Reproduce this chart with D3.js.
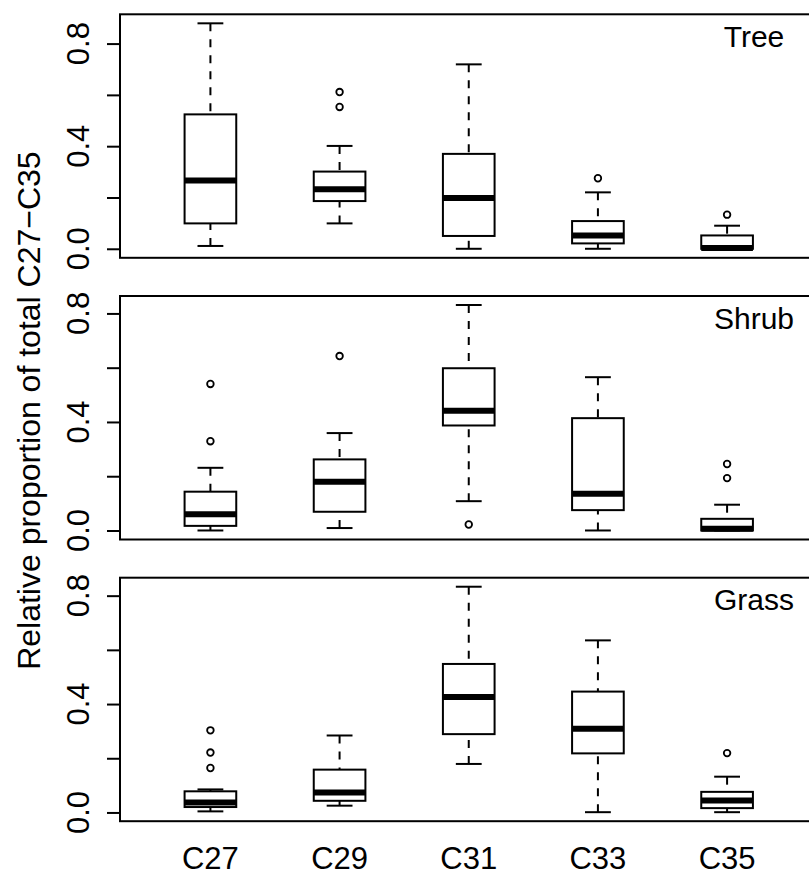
<!DOCTYPE html>
<html>
<head>
<meta charset="utf-8">
<script src="https://cdn.jsdelivr.net/npm/d3@7"></script>
<style>
  body { margin: 0; background: #fff; }
  svg text { font-family: "Liberation Sans", Arial, sans-serif; fill: #000; }
</style>
</head>
<body>
<div id="chart"></div>
<script>
var compounds = ["C27", "C29", "C31", "C33", "C35"];
var panelNames = ["Tree", "Shrub", "Grass"];

// [lower whisker, Q1, median, Q3, upper whisker] per compound
var treeStats = [
  [0.011, 0.099, 0.266, 0.524, 0.879],
  [0.099, 0.186, 0.232, 0.301, 0.401],
  [0.000, 0.050, 0.198, 0.370, 0.719],
  [0.000, 0.021, 0.052, 0.108, 0.220],
  [0.000, 0.000, 0.003, 0.052, 0.090]
];
var treeOutliers = [[], [0.611, 0.553], [], [0.275], [0.133]];

var shrubStats = [
  [0.000, 0.017, 0.060, 0.143, 0.231],
  [0.009, 0.069, 0.180, 0.262, 0.359],
  [0.108, 0.387, 0.441, 0.598, 0.831],
  [0.000, 0.075, 0.135, 0.414, 0.565],
  [0.000, 0.000, 0.006, 0.043, 0.095]
];
var shrubOutliers = [[0.540, 0.329], [0.643], [0.022], [], [0.245, 0.193]];

var grassStats = [
  [0.004, 0.020, 0.037, 0.078, 0.085],
  [0.025, 0.043, 0.074, 0.158, 0.284],
  [0.179, 0.289, 0.426, 0.548, 0.833],
  [0.001, 0.218, 0.309, 0.446, 0.635],
  [0.001, 0.016, 0.044, 0.076, 0.132]
];
var grassOutliers = [[0.303, 0.221, 0.164], [], [], [], [0.219]];

var yTicks = [0, 0.2, 0.4, 0.6, 0.8];
var yTickLabels = [0, 0.4, 0.8];

var allStats = [treeStats, shrubStats, grassStats];
var allOutliers = [treeOutliers, shrubOutliers, grassOutliers];

var width = 809, height = 877;
var left = 120, right = 817.5;
var panelTop = 14.3, panelStep = 281.7, panelH = 243.5;
var fontSize = 31;

var svg = d3.select("#chart").append("svg")
    .attr("width", width)
    .attr("height", height);

// x positions 1..5, R style range 0.5..5.5 extended 4%
var x = d3.scaleLinear().domain([0.3, 5.7]).range([left, right]);
var boxW = x(1.4) - x(1);
var capW = boxW / 2;

function drawPanel(i) {
  var stats = allStats[i], outs = allOutliers[i];
  var top = panelTop + i * panelStep, bottom = top + panelH;

  var lo = d3.min(stats, function(s) { return s[0]; });
  var hi = d3.max(stats.map(function(s, j) { return d3.max([s[4]].concat(outs[j])); }));
  var pad = (hi - lo) * 0.04;
  var y = d3.scaleLinear().domain([lo - pad, hi + pad]).range([bottom, top]);

  var g = svg.append("g");

  // y axis ticks
  var axis = d3.axisLeft(y).tickValues(yTicks).tickSize(13).tickFormat("");
  var ax = g.append("g").attr("transform", "translate(" + left + ",0)").call(axis);
  ax.select(".domain").remove();
  ax.selectAll("line").attr("stroke", "#000").attr("stroke-width", 2);

  g.selectAll(".ylab").data(yTickLabels).enter().append("text")
    .attr("transform", function(d) { return "translate(89," + y(d) + ") rotate(-90)"; })
    .attr("text-anchor", "middle")
    .style("font-size", fontSize + "px")
    .text(function(d) { return d.toFixed(1); });

  var box = g.selectAll(".box").data(stats).enter().append("g")
    .attr("class", "box");

  // whiskers (dashed), drawn from whisker end toward box
  box.append("line")
    .attr("x1", function(d, j) { return x(j + 1); })
    .attr("x2", function(d, j) { return x(j + 1); })
    .attr("y1", function(d) { return y(d[4]); })
    .attr("y2", function(d) { return y(d[3]); })
    .attr("stroke", "#000").attr("stroke-width", 2).attr("stroke-dasharray", "8,8");
  box.append("line")
    .attr("x1", function(d, j) { return x(j + 1); })
    .attr("x2", function(d, j) { return x(j + 1); })
    .attr("y1", function(d) { return y(d[0]); })
    .attr("y2", function(d) { return y(d[1]); })
    .attr("stroke", "#000").attr("stroke-width", 2).attr("stroke-dasharray", "8,8");

  // caps
  [0, 4].forEach(function(k) {
    box.append("line")
      .attr("x1", function(d, j) { return x(j + 1) - capW / 2; })
      .attr("x2", function(d, j) { return x(j + 1) + capW / 2; })
      .attr("y1", function(d) { return y(d[k]); })
      .attr("y2", function(d) { return y(d[k]); })
      .attr("stroke", "#000").attr("stroke-width", 2);
  });

  box.append("rect")
    .attr("x", function(d, j) { return x(j + 1) - boxW / 2; })
    .attr("y", function(d) { return y(d[3]); })
    .attr("width", boxW)
    .attr("height", function(d) { return y(d[1]) - y(d[3]); })
    .attr("fill", "#fff").attr("stroke", "#000").attr("stroke-width", 2);

  box.append("line")
    .attr("x1", function(d, j) { return x(j + 1) - boxW / 2; })
    .attr("x2", function(d, j) { return x(j + 1) + boxW / 2; })
    .attr("y1", function(d) { return y(d[2]); })
    .attr("y2", function(d) { return y(d[2]); })
    .attr("stroke", "#000").attr("stroke-width", 6);

  // outliers
  outs.forEach(function(o, j) {
    g.selectAll(".out" + j).data(o).enter().append("circle")
      .attr("cx", x(j + 1))
      .attr("cy", function(d) { return y(d); })
      .attr("r", 3.3)
      .attr("fill", "none").attr("stroke", "#000").attr("stroke-width", 1.8);
  });

  // frame
  g.append("rect")
    .attr("x", left).attr("y", top)
    .attr("width", right - left).attr("height", panelH)
    .attr("fill", "none").attr("stroke", "#000").attr("stroke-width", 2);

  g.append("text")
    .attr("x", 754).attr("y", top + 32.5)
    .attr("text-anchor", "middle")
    .style("font-size", "30px")
    .text(panelNames[i]);
}

for (var i = 0; i < panelNames.length; i++) drawPanel(i);

// x labels
svg.selectAll(".xlab").data(compounds).enter().append("text")
  .attr("x", function(d, j) { return x(j + 1); })
  .attr("y", 869)
  .attr("text-anchor", "middle")
  .style("font-size", fontSize + "px")
  .text(function(d) { return d; });

svg.append("text")
  .attr("transform", "translate(40," + (panelTop + (2 * panelStep + panelH)) / 2 + ") rotate(-90)")
  .attr("text-anchor", "middle")
  .style("font-size", "32px")
  .text("Relative proportion of total C27\u2212C35");
</script>
</body>
</html>
